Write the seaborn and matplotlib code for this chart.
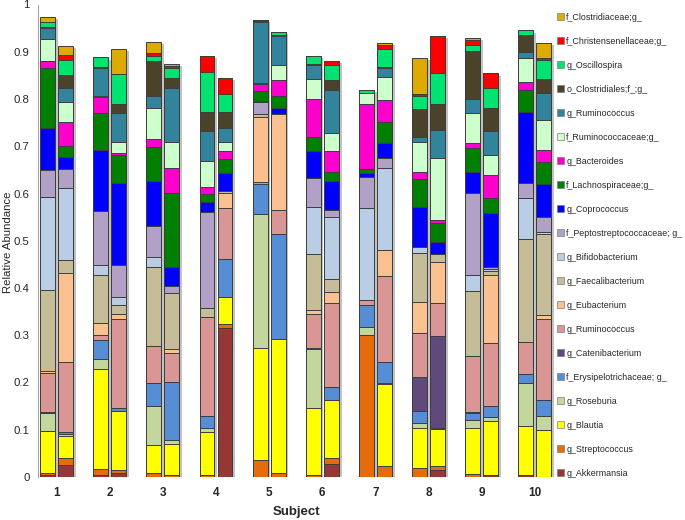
import numpy as np
import pandas as pd
import matplotlib
matplotlib.use("Agg")
import matplotlib.pyplot as plt
import matplotlib.patheffects as pe
from matplotlib.patches import Patch
import seaborn as sns

# ---- data: 20 bars (two per subject), values are relative abundances ----
subjects = ["1", "2", "3", "4", "5", "6", "7", "8", "9", "10"]

akkermansia = [0.005, 0.025, 0.004, 0.008, 0, 0, 0, 0.315, 0, 0, 0, 0.027, 0, 0, 0, 0.015, 0, 0.004, 0.004, 0]
streptococcus = [0.004, 0.015, 0.012, 0.007, 0.009, 0.004, 0.004, 0.009, 0.035, 0.008, 0.004, 0.013, 0.301, 0.023, 0.020, 0.008, 0.006, 0, 0, 0]
blautia = [0.089, 0.047, 0.212, 0.125, 0.059, 0.065, 0.091, 0.058, 0.237, 0.285, 0.141, 0.124, 0, 0.173, 0.084, 0.078, 0.097, 0.115, 0.104, 0.099]
roseburia = [0.037, 0.003, 0.022, 0, 0.082, 0.009, 0.009, 0, 0.285, 0, 0.125, 0, 0.017, 0.004, 0.011, 0, 0.018, 0.007, 0.090, 0.031]
erysipelotrichaceae = [0.001, 0.005, 0.041, 0.007, 0.048, 0.124, 0.025, 0.079, 0.063, 0.221, 0.004, 0.027, 0.045, 0.044, 0.025, 0.002, 0.014, 0.024, 0.020, 0.033]
catenibacterium = [0.001, 0, 0, 0, 0, 0, 0, 0, 0, 0, 0, 0, 0, 0, 0.072, 0.195, 0.002, 0, 0, 0]
ruminococcus_pink = [0.084, 0.148, 0.009, 0.187, 0.079, 0.060, 0.209, 0.108, 0.005, 0.051, 0.072, 0.178, 0.012, 0.181, 0.092, 0.070, 0.119, 0.133, 0.067, 0.171]
eubacterium = [0.004, 0.188, 0.025, 0.010, 0, 0.009, 0, 0.033, 0.136, 0.203, 0.007, 0.022, 0, 0.055, 0.066, 0.086, 0, 0.144, 0, 0.009]
faecalibacterium = [0.171, 0.028, 0.102, 0.020, 0.167, 0.119, 0.019, 0.004, 0.008, 0, 0.120, 0.027, 0, 0, 0.105, 0.017, 0.137, 0.010, 0.218, 0.171]
bifidobacterium = [0.196, 0.152, 0.022, 0.018, 0.021, 0, 0, 0, 0, 0, 0.099, 0.133, 0.195, 0.173, 0.012, 0, 0.034, 0.003, 0.088, 0.005]
peptostreptococcaceae = [0.058, 0.040, 0.114, 0.066, 0.066, 0.014, 0.204, 0, 0.024, 0, 0.060, 0.015, 0.064, 0.023, 0, 0, 0.175, 0.005, 0.031, 0.032]
coprococcus = [0.088, 0.026, 0.130, 0.174, 0.096, 0.040, 0.022, 0.038, 0.003, 0.012, 0.057, 0.060, 0.009, 0.030, 0.084, 0.027, 0.044, 0.114, 0.151, 0.069]
lachnospiraceae = [0.128, 0.024, 0.077, 0.059, 0.071, 0.158, 0.017, 0.030, 0.021, 0.027, 0.031, 0.020, 0.008, 0.046, 0.059, 0.040, 0.050, 0.031, 0.047, 0.047]
bacteroides = [0.015, 0.051, 0.034, 0.004, 0.017, 0.053, 0.014, 0.015, 0.014, 0.033, 0.081, 0.044, 0.138, 0.046, 0.016, 0.005, 0.010, 0.049, 0.015, 0.026]
ruminococcaceae = [0.047, 0.042, 0.002, 0.023, 0.065, 0.055, 0.055, 0.019, 0.003, 0.031, 0.041, 0.039, 0.023, 0.048, 0.064, 0.133, 0.065, 0.042, 0.051, 0.063]
ruminococcus_teal = [0.022, 0.029, 0.059, 0.062, 0.027, 0.114, 0.064, 0.030, 0.130, 0.062, 0.030, 0.091, 0, 0.019, 0.010, 0.058, 0.028, 0.052, 0.013, 0.057]
clostridiales = [0.002, 0.027, 0.003, 0.019, 0.073, 0.020, 0.039, 0.034, 0.003, 0.003, 0.002, 0.020, 0, 0.002, 0.059, 0.055, 0.103, 0.047, 0.036, 0.029]
oscillospira = [0.010, 0.033, 0.020, 0.064, 0.011, 0.021, 0.086, 0.039, 0, 0.005, 0.017, 0.033, 0.006, 0.038, 0.028, 0.065, 0.012, 0.044, 0.010, 0.041]
christensenellaceae = [0.002, 0.010, 0, 0, 0.007, 0.005, 0.033, 0.033, 0, 0, 0, 0.007, 0, 0.009, 0.003, 0.079, 0.011, 0.030, 0, 0.003]
clostridiaceae = [0.009, 0.019, 0, 0.053, 0.023, 0.004, 0, 0, 0, 0, 0, 0, 0.002, 0.004, 0.076, 0, 0.005, 0, 0, 0.033]

# bottom -> top stacking order
series = [akkermansia, streptococcus, blautia, roseburia, erysipelotrichaceae,
          catenibacterium, ruminococcus_pink, eubacterium, faecalibacterium,
          bifidobacterium, peptostreptococcaceae, coprococcus, lachnospiraceae,
          bacteroides, ruminococcaceae, ruminococcus_teal, clostridiales,
          oscillospira, christensenellaceae, clostridiaceae]
labels = ["g_Akkermansia", "g_Streptococcus", "g_Blautia", "g_Roseburia",
          "f_Erysipelotrichaceae; g_", "g_Catenibacterium", "g_Ruminococcus",
          "g_Eubacterium", "g_Faecalibacterium", "g_Bifidobacterium",
          "f_Peptostreptococcaceae; g_", "g_Coprococcus", "f_Lachnospiraceae;g_",
          "g_Bacteroides", "f_Ruminococcaceae;g_", "g_Ruminococcus",
          "o_Clostridiales;f_;g_", "g_Oscillospira", "f_Christensenellaceae;g_",
          "f_Clostridiaceae;g_"]
colors = ["#953735", "#E46C0A", "#FFFF00", "#C3D69B", "#558ED5",
          "#604A7B", "#DA9694", "#FAC090", "#C4BD97", "#B9CDE5",
          "#B2A1C7", "#0000FF", "#008000", "#FF00CC", "#CCFFCC",
          "#31849B", "#4A4229", "#00E371", "#FF0000", "#DFAA00"]

# ---- figure ----
sns.set_style("white")
plt.rcParams['font.family'] = ['Liberation Sans', 'DejaVu Sans']

fig = plt.figure(figsize=(6.85, 5.2), dpi=100)
ax = fig.add_axes([38 / 685, 43 / 520, 517 / 685, 472.5 / 520])

offset = 0.17
bar_w = 0.28
positions = []
for i in range(len(subjects)):
    positions += [round(i - offset, 3), round(i + offset, 3)]
positions = np.array(positions)

vals = np.array(series, dtype=float)
cum = np.cumsum(vals, axis=0)

for k in range(len(series) - 1, -1, -1):
    df = pd.DataFrame({"pos": positions, "top": cum[k]})
    n_before = len(ax.patches)
    sns.barplot(data=df, x="pos", y="top", native_scale=True, orient="x",
                color=colors[k], saturation=1, width=bar_w / (2 * offset),
                errorbar=None, edgecolor="#3d3d3d", linewidth=0.7, ax=ax)
    if k == len(series) - 1:
        for p in ax.patches[n_before:]:
            p.set_path_effects([pe.SimplePatchShadow(offset=(2, -1.5), shadow_rgbFace="#9a9a9a", alpha=0.6),
                                pe.Normal()])

ax.set_xlim(-0.35, 9.38)
ax.set_ylim(0, 1.0)
ax.set_xticks(np.arange(len(subjects)))
ax.set_xticklabels(subjects, fontweight="bold", fontsize=8.5)
ax.tick_params(axis="x", length=0, pad=7)
yt = np.round(np.arange(0, 1.01, 0.1), 1)
ax.set_yticks(yt)
ax.set_yticklabels(["0" if v == 0 else ("1" if v == 1 else f"{v:g}") for v in yt], fontsize=8.2)
ax.tick_params(axis="y", length=3, width=0.8, color="#A6A6A6", pad=3)
for s in ["top", "right", "bottom"]:
    ax.spines[s].set_visible(False)
ax.spines["left"].set_color("#A6A6A6")
ax.spines["left"].set_linewidth(0.8)
ax.set_xlabel("Subject", fontweight="bold", fontsize=9.5, labelpad=5)
ax.set_ylabel("")
fig.text(8.5 / 685, 1 - 242 / 520, "Relative Abundance", rotation=90,
         ha="center", va="center", fontsize=8.2)

handles = [Patch(facecolor=colors[k], edgecolor="#7f7f7f", linewidth=0.5, label=labels[k])
           for k in range(len(series) - 1, -1, -1)]
fig.legend(handles=handles, loc="upper left", bbox_to_anchor=(553 / 685, 1 - 9 / 520),
           frameon=False, fontsize=6.4, handlelength=0.8, handleheight=0.8,
           handletextpad=0.3, labelspacing=1.69, borderaxespad=0)

fig.savefig("out.png", dpi=100)
